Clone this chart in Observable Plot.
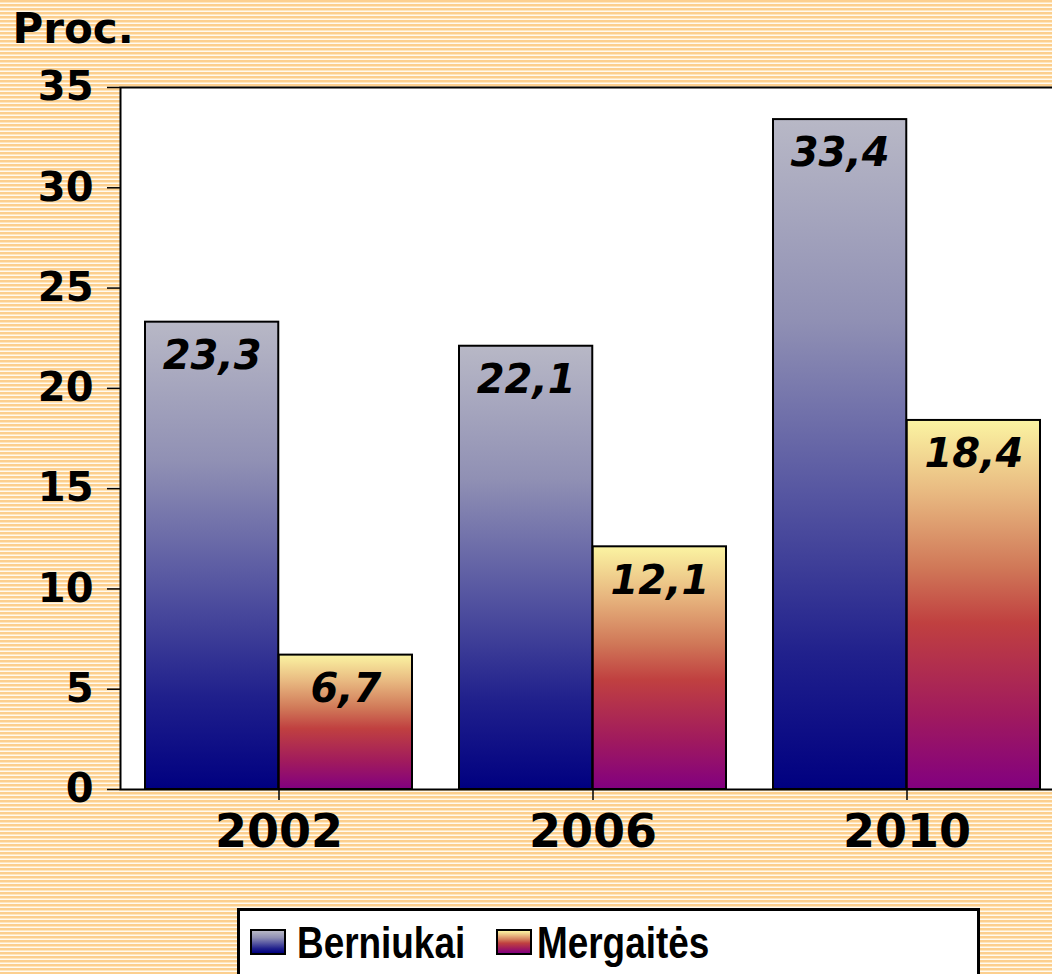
<!DOCTYPE html>
<html>
<head>
<meta charset="utf-8">
<script src="https://cdn.jsdelivr.net/npm/d3@7"></script>
<script src="https://cdn.jsdelivr.net/npm/@observablehq/plot@0.6"></script>
<style>
  html, body { margin: 0; padding: 0; width: 1052px; height: 974px; overflow: hidden; }
  body {
    background: repeating-linear-gradient(to bottom, #fccf8e 0px, #fccf8e 2px, #ffe6bd 2px, #ffe6bd 3px, #fffaf0 3px, #fffaf0 4px);
    position: relative;
  }
  #chart { position: absolute; left: 0; top: 0; width: 1070px; }
  #chart svg { max-width: none !important; }
  #legend {
    position: absolute; left: 237px; top: 908px; width: 743px; height: 100px;
    background: white; border: 3px solid black; box-sizing: border-box;
    font-family: "Liberation Sans", Arial, sans-serif;
    font-weight: bold; font-size: 45px; color: black;
  }
  .sw { position: absolute; top: 18px; width: 32px; height: 22px; border: 2px solid black; }
  .lt { position: absolute; top: 7px; line-height: 50px; transform: scaleX(0.82); transform-origin: left center; white-space: nowrap; }
</style>
</head>
<body>
<div id="chart"></div>
<div id="legend"></div>
<script>
const years = ["2002", "2006", "2010"];
const seriesNames = ["Berniukai", "Mergaitės"];
const berniukai = [23.3, 22.1, 33.4];
const mergaites = [6.7, 12.1, 18.4];
const yTicks = [0, 5, 10, 15, 20, 25, 30, 35];

const data = years.flatMap((yr, i) => [
  {year: yr, series: seriesNames[0], value: berniukai[i]},
  {year: yr, series: seriesNames[1], value: mergaites[i]}
]);
const boys = data.filter(d => d.series === seriesNames[0]);
const girls = data.filter(d => d.series === seriesNames[1]);

const W = 1070, ML = 120, MR = 6;
const pInner = 0.15, pOuter = 0.075;
const step = (W - ML - MR) / (years.length - pInner + 2 * pOuter);
const half = step * (1 - pInner) / 2;
const fmt = d => d.value.toFixed(1).replace(".", ",");

const chart = Plot.plot({
  width: W, height: 880,
  marginLeft: ML, marginRight: MR, marginTop: 87, marginBottom: 91,
  style: {background: "transparent", fontFamily: "'DejaVu Sans', sans-serif", color: "black", overflow: "visible", maxWidth: "none"},
  x: {domain: years, paddingInner: pInner, paddingOuter: pOuter, axis: null},
  y: {domain: [0, 35], axis: null},
  marks: [
    Plot.frame({fill: "white", stroke: "black", strokeWidth: 2}),
    Plot.barY(boys, {x: "year", y: "value", fill: "url(#gradB)", stroke: "black", strokeWidth: 2, insetRight: half}),
    Plot.barY(girls, {x: "year", y: "value", fill: "url(#gradG)", stroke: "black", strokeWidth: 2, insetLeft: half}),
    Plot.text(boys, {x: "year", y: "value", text: fmt, dx: -half / 2, dy: 34, fontSize: 40, fontWeight: "bold", fontStyle: "italic", fill: "black"}),
    Plot.text(girls, {x: "year", y: "value", text: fmt, dx: half / 2, dy: 34, fontSize: 40, fontWeight: "bold", fontStyle: "italic", fill: "black"}),
    Plot.axisY({ticks: yTicks, tickFormat: d => String(d), tickSize: 13, tickPadding: 14, fontSize: 40, fontWeight: "bold", strokeWidth: 1.5, label: null}),
    Plot.axisX({tickSize: 11, tickPadding: 14, fontSize: 46, fontWeight: "bold", strokeWidth: 1.5, label: null}),
    Plot.text(["Proc."], {frameAnchor: "top-left", dx: -108, dy: -74, textAnchor: "start", lineAnchor: "top", fontSize: 42, fontWeight: "bold", fill: "black"})
  ]
});

const svgNS = "http://www.w3.org/2000/svg";
const defs = document.createElementNS(svgNS, "defs");
function grad(id, stops) {
  const g = document.createElementNS(svgNS, "linearGradient");
  g.setAttribute("id", id);
  g.setAttribute("x1", "0"); g.setAttribute("y1", "0");
  g.setAttribute("x2", "0"); g.setAttribute("y2", "1");
  for (const [o, c] of stops) {
    const s = document.createElementNS(svgNS, "stop");
    s.setAttribute("offset", o);
    s.setAttribute("stop-color", c);
    g.appendChild(s);
  }
  defs.appendChild(g);
}
const stopsB = [[0, "#b8b8c6"], [0.3, "#9090b4"], [0.55, "#5858a2"], [0.8, "#20208c"], [1, "#000080"]];
const stopsG = [[0, "#fbf4a2"], [0.2, "#e8b880"], [0.4, "#d07858"], [0.55, "#c04040"], [0.8, "#a01a5e"], [1, "#820080"]];
grad("gradB", stopsB);
grad("gradG", stopsG);
chart.insertBefore(defs, chart.firstChild);
document.getElementById("chart").appendChild(chart);

const css = stops => "linear-gradient(to bottom, " + stops.map(([o, c]) => c + " " + (o * 100) + "%").join(", ") + ")";
const legend = document.getElementById("legend");
const swLefts = [10, 256];
const txtLefts = [57, 297];
seriesNames.forEach((name, i) => {
  const sw = document.createElement("div");
  sw.className = "sw";
  sw.style.left = swLefts[i] + "px";
  sw.style.background = css(i === 0 ? stopsB : stopsG);
  const t = document.createElement("div");
  t.className = "lt";
  t.style.left = txtLefts[i] + "px";
  t.textContent = name;
  legend.appendChild(sw);
  legend.appendChild(t);
});
</script>
</body>
</html>
